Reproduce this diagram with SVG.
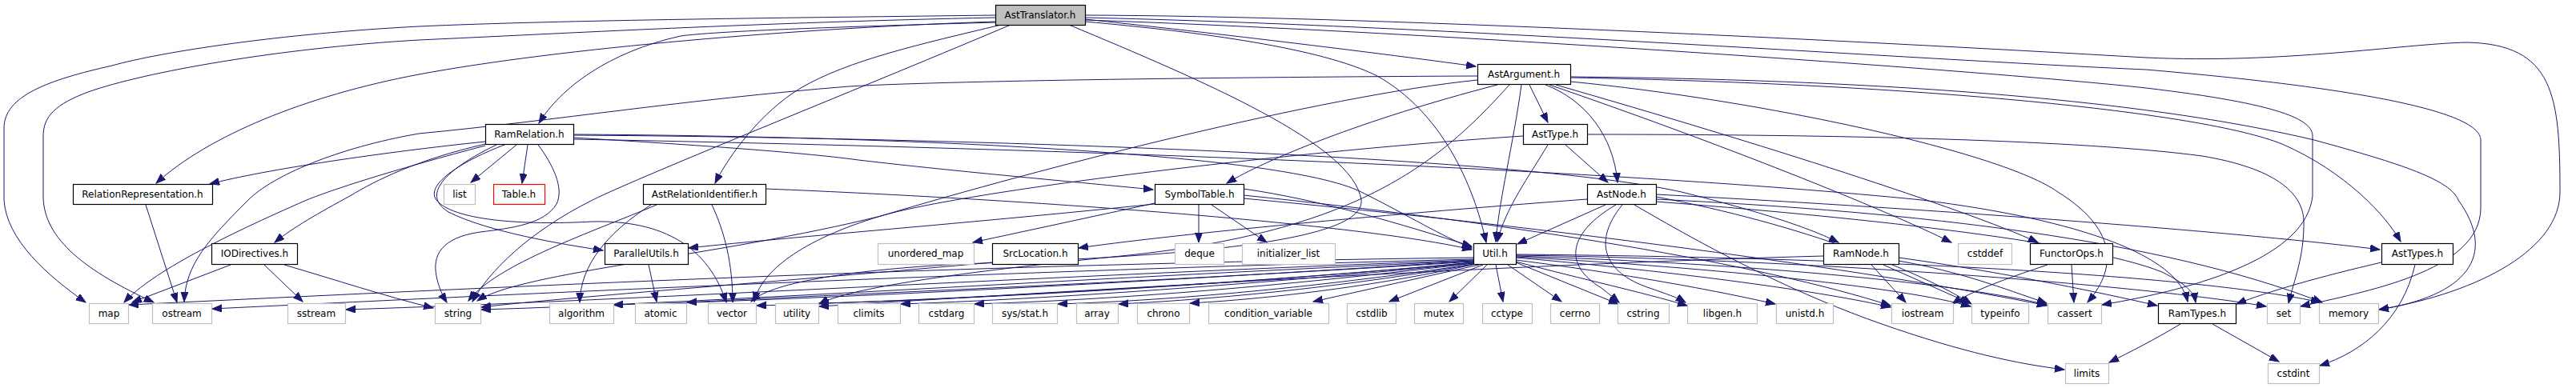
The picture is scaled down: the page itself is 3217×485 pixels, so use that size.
<svg xmlns="http://www.w3.org/2000/svg" width="3217" height="485" viewBox="0 0 3217 485">
<style>
rect{fill:#fff;stroke:#000;stroke-width:1.2}
.x rect{stroke:#bfbfbf}
.r rect{stroke:#ff0000}
.root rect{fill:#bfbfbf}
text{font-family:"DejaVu Sans",sans-serif;font-size:12px;text-anchor:middle;fill:#000}
#edges path{fill:none;stroke:#191970;stroke-width:1;marker-end:url(#a)}
</style>
<defs>
<marker id="a" markerUnits="userSpaceOnUse" markerWidth="13" markerHeight="10" refX="12" refY="4.5" orient="auto">
<path d="M0,0 L12,4.5 L0,9 Z" fill="#191970" stroke="#191970" stroke-width="1"/>
</marker>
</defs>
<rect x="0" y="0" width="3217" height="485" style="fill:#fff;stroke:none"/>
<g id="edges">
<!-- AstTranslator.h -->
<path d="M1243,19 C1000,22 700,25 523,33 C350,42 200,65 140,82 C60,100 5,120 5,160 L5,250 C8,300 60,345 107,378"/>
<path d="M1243,22 C950,28 700,42 523,50 C350,60 180,90 110,115 C70,130 54,145 54,170 L54,245 C54,300 110,340 192,378"/>
<path d="M1243,27 C1000,35 700,60 523,93 C380,120 260,170 195,229"/>
<path d="M1243,28 C1100,32 900,38 850,45 C760,65 700,110 673,154"/>
<path d="M1250,31 C1150,55 1060,75 1000,110 C950,140 910,195 893,229"/>
<path d="M1262,31 C1100,100 800,220 740,250 C660,290 610,340 590,377"/>
<path d="M1355,27 C1500,40 1650,60 1720,95 C1800,140 1840,230 1856,303"/>
<path d="M1355,24 C1550,45 1750,70 1843,83"/>
<path d="M1355,19 C1700,20 2300,50 2680,72 C2850,80 3000,55 3080,53 C3190,55 3197,120 3197,240 C3197,310 3100,365 2971,387"/>
<path d="M1355,22 C1800,32 2400,75 2680,87 C2950,110 3098,140 3098,175 L3098,260 C3098,340 2950,365 2873,383"/>
<path d="M1355,25 C1800,40 2500,90 2680,110 C2850,130 2888,150 2888,170 L2888,245 C2880,320 2750,360 2625,381"/>
<path d="M1335,31 C1500,100 1690,180 1700,250 C1705,300 1500,320 1200,330 C1050,338 960,355 938,377"/>
<!-- RelationRepresentation.h -->
<path d="M182,256 L221,378"/>
<!-- RamRelation.h -->
<path d="M645,181 L588,228"/>
<path d="M659,181 L652,229"/>
<path d="M606,177 C480,190 330,212 262,230"/>
<path d="M606,180 C520,200 470,225 437,245 C400,265 365,285 343,303"/>
<path d="M606,182 C500,210 420,235 383,250 C280,295 190,340 155,378"/>
<path d="M620,181 C570,205 520,240 560,265 C610,290 700,305 753,313"/>
<path d="M672,181 C690,205 705,235 695,255 C680,280 640,285 600,290 C550,297 540,320 545,345 C548,360 553,370 558,378"/>
<path d="M630,181 C580,200 530,230 545,250 C565,275 650,282 740,277 C830,275 885,310 907,378"/>
<path d="M716,172 C850,180 1000,190 1072,200 C1200,215 1350,228 1440,237"/>
<path d="M716,168 C1100,170 1600,190 1700,240 C1760,270 1800,295 1838,310"/>
<path d="M716,169 C1200,172 1900,195 2100,240 C2200,265 2260,285 2296,303"/>
<path d="M716,174 C1300,185 2000,210 2400,250 C2600,275 2720,320 2732,377"/>
<!-- IODirectives.h -->
<path d="M288,331 L165,378"/>
<path d="M330,331 L378,377"/>
<path d="M355,331 C420,350 480,370 541,385"/>
<!-- ParallelUtils.h -->
<path d="M810,331 L820,377"/>
<!-- AstRelationIdentifier.h -->
<path d="M813,256 C760,290 725,330 724,378"/>
<path d="M889,256 C905,290 915,330 915,378"/>
<path d="M820,256 C740,290 620,330 585,376"/>
<path d="M956,236 C1300,250 1700,280 1838,312"/>
<!-- SymbolTable.h -->
<path d="M1497,256 L1497,303"/>
<path d="M1513,256 L1582,303"/>
<path d="M1442,254 L1215,303"/>
<path d="M1442,255 C1200,280 1000,295 860,310"/>
<path d="M1553,236 C1650,250 1750,280 1838,308"/>
<path d="M1553,244 C1900,280 2200,330 2361,382"/>
<path d="M1553,248 C1950,285 2350,340 2556,382"/>
<!-- AstArgument.h -->
<path d="M1910,106 L1933,153"/>
<path d="M1930,106 C1980,125 2015,170 2020,228"/>
<path d="M1870,106 C1700,150 1580,200 1532,229"/>
<path d="M1900,106 C1890,180 1872,250 1868,302"/>
<path d="M1943,106 C2200,180 2450,260 2545,303"/>
<path d="M1935,106 C2150,180 2350,260 2437,303"/>
<path d="M1961,97 C2400,105 2750,140 2850,180 C2930,215 2980,270 2998,302"/>
<path d="M1961,96 C2400,100 2700,130 2890,175 C3000,205 3060,225 3070,250 C3120,320 3080,370 2971,387"/>
<path d="M1961,102 C2200,125 2500,190 2570,240 C2650,290 2640,340 2607,378"/>
<path d="M1845,95 C1600,96 1200,100 1060,108 C850,125 700,150 523,167 C420,185 340,220 310,250 C260,300 232,330 230,377"/>
<path d="M1845,100 C1650,120 1300,210 1100,270 C900,320 650,340 596,376"/>
<path d="M1885,106 C1800,200 1700,290 1400,320 C1200,340 1060,360 1023,380"/>
<!-- AstType.h -->
<path d="M1955,181 L2008,228"/>
<path d="M1933,181 C1910,220 1880,260 1870,302"/>
<path d="M1982,168 C2300,168 2600,175 2750,195 C2840,210 2875,240 2877,275 C2878,320 2865,350 2858,379"/>
<path d="M1902,170 C1600,190 1200,240 1100,270 C1000,300 950,340 942,377"/>
<!-- AstNode.h -->
<path d="M2005,256 L1895,305"/>
<path d="M1982,249 C1700,270 1450,295 1347,310"/>
<path d="M2018,256 C1960,290 1950,330 2000,360 C2010,368 2015,372 2022,378"/>
<path d="M2026,256 C1990,300 2000,340 2060,360 C2080,367 2095,372 2105,378"/>
<path d="M2041,256 C2150,320 2250,370 2350,405 C2450,440 2520,455 2578,462"/>
<path d="M2068,243 C2400,260 2800,290 2972,312"/>
<path d="M2068,249 C2400,265 2700,300 2900,378"/>
<path d="M2068,252 C2300,270 2600,300 2700,340 C2730,355 2740,365 2742,378"/>
<path d="M2068,246 C2250,280 2400,340 2462,380"/>
<!-- RamNode.h -->
<path d="M2337,331 L2380,378"/>
<path d="M2352,331 L2460,379"/>
<path d="M2371,326 C2450,340 2500,360 2556,379"/>
<path d="M2371,322 C2500,340 2620,365 2694,382"/>
<path d="M2277,320 C1900,330 1400,360 1023,383"/>
<!-- FunctorOps.h -->
<path d="M2557,331 C2500,350 2460,365 2438,380"/>
<path d="M2587,331 L2590,378"/>
<!-- AstTypes.h -->
<path d="M2974,328 C2900,345 2830,365 2793,380"/>
<path d="M3016,331 C3000,400 2950,440 2897,457"/>
<!-- RamTypes.h -->
<path d="M2763,405 L2846,452"/>
<path d="M2723,405 C2690,425 2660,440 2634,453"/>
<!-- SrcLocation.h -->
<path d="M1239,328 C1000,350 700,372 601,384"/>
<!-- Util.h -->
<path d="M1840,322 C1200,330 600,360 161,381"/>
<path d="M1840,324 C1200,340 600,370 265,386"/>
<path d="M1840,325 C1300,345 800,375 432,387"/>
<path d="M1840,326 C1300,350 900,378 601,387"/>
<path d="M1840,326 C1400,355 1000,375 766,381"/>
<path d="M1840,327 C1400,355 1000,370 858,378"/>
<path d="M1840,328 C1500,360 1100,378 945,382"/>
<path d="M1840,328 C1500,360 1150,376 1023,379"/>
<path d="M1840,329 C1500,362 1250,376 1125,380"/>
<path d="M1840,329 C1550,364 1350,376 1217,380"/>
<path d="M1841,330 C1600,366 1420,377 1321,380"/>
<path d="M1842,330 C1650,364 1480,376 1397,380"/>
<path d="M1843,330 C1700,362 1560,375 1486,379"/>
<path d="M1847,331 L1640,377"/>
<path d="M1852,331 L1735,377"/>
<path d="M1857,331 L1810,377"/>
<path d="M1868,331 L1877,377"/>
<path d="M1883,331 L1950,377"/>
<path d="M1893,328 L2021,380"/>
<path d="M1893,327 C1980,350 2050,365 2107,382"/>
<path d="M1893,325 C2050,345 2150,365 2217,380"/>
<path d="M1893,322 C2100,340 2280,365 2361,384"/>
<path d="M1893,321 C2150,335 2380,360 2461,383"/>
<path d="M1893,320 C2200,330 2450,355 2556,381"/>
<path d="M1893,319 C2300,325 2700,360 2830,383"/>
<path d="M1893,318 C2350,322 2750,345 2898,378"/>
</g>
<g id="n-AstTranslator" class="root"><rect x="1243.5" y="6.5" width="112" height="25"/><text x="1299" y="23">AstTranslator.h</text></g>
<g id="n-AstArgument"><rect x="1845.5" y="80.5" width="116" height="25"/><text x="1903" y="97">AstArgument.h</text></g>
<g id="n-RamRelation"><rect x="606.5" y="155.5" width="110" height="25"/><text x="661" y="172">RamRelation.h</text></g>
<g id="n-AstType"><rect x="1902.5" y="155.5" width="80" height="25"/><text x="1942" y="172">AstType.h</text></g>
<g id="n-RelationRepresentation"><rect x="91.5" y="230.5" width="174" height="25"/><text x="178" y="247">RelationRepresentation.h</text></g>
<g id="n-list" class="x"><rect x="554.5" y="230.5" width="39" height="25"/><text x="574" y="247">list</text></g>
<g id="n-Table" class="r"><rect x="616.5" y="230.5" width="64" height="25"/><text x="648" y="247">Table.h</text></g>
<g id="n-AstRelationIdentifier"><rect x="803.5" y="230.5" width="153" height="25"/><text x="880" y="247">AstRelationIdentifier.h</text></g>
<g id="n-SymbolTable"><rect x="1442.5" y="230.5" width="111" height="25"/><text x="1498" y="247">SymbolTable.h</text></g>
<g id="n-AstNode"><rect x="1982.5" y="230.5" width="86" height="25"/><text x="2025" y="247">AstNode.h</text></g>
<g id="n-IODirectives"><rect x="264.5" y="304.5" width="107" height="26"/><text x="318" y="321">IODirectives.h</text></g>
<g id="n-ParallelUtils"><rect x="755.5" y="304.5" width="104" height="26"/><text x="807" y="321">ParallelUtils.h</text></g>
<g id="n-unordered_map" class="x"><rect x="1096.5" y="304.5" width="120" height="26"/><text x="1156" y="321">unordered_map</text></g>
<g id="n-SrcLocation"><rect x="1239.5" y="304.5" width="107" height="26"/><text x="1293" y="321">SrcLocation.h</text></g>
<g id="n-deque" class="x"><rect x="1467.5" y="304.5" width="61" height="26"/><text x="1498" y="321">deque</text></g>
<g id="n-initializer_list" class="x"><rect x="1551.5" y="304.5" width="116" height="26"/><text x="1609" y="321">initializer_list</text></g>
<g id="n-Util"><rect x="1840.5" y="304.5" width="53" height="26"/><text x="1867" y="321">Util.h</text></g>
<g id="n-RamNode"><rect x="2277.5" y="304.5" width="94" height="26"/><text x="2324" y="321">RamNode.h</text></g>
<g id="n-cstddef" class="x"><rect x="2445.5" y="304.5" width="67" height="26"/><text x="2479" y="321">cstddef</text></g>
<g id="n-FunctorOps"><rect x="2535.5" y="304.5" width="103" height="26"/><text x="2587" y="321">FunctorOps.h</text></g>
<g id="n-AstTypes"><rect x="2974.5" y="304.5" width="89" height="26"/><text x="3019" y="321">AstTypes.h</text></g>
<g id="n-map" class="x"><rect x="111.5" y="379.5" width="49" height="25"/><text x="136" y="396">map</text></g>
<g id="n-ostream" class="x"><rect x="190.5" y="379.5" width="74" height="25"/><text x="227" y="396">ostream</text></g>
<g id="n-sstream" class="x"><rect x="359.5" y="379.5" width="72" height="25"/><text x="395" y="396">sstream</text></g>
<g id="n-string" class="x"><rect x="543.5" y="379.5" width="57" height="25"/><text x="572" y="396">string</text></g>
<g id="n-algorithm" class="x"><rect x="686.5" y="379.5" width="80" height="25"/><text x="726" y="396">algorithm</text></g>
<g id="n-atomic" class="x"><rect x="793.5" y="379.5" width="64" height="25"/><text x="825" y="396">atomic</text></g>
<g id="n-vector" class="x"><rect x="884.5" y="379.5" width="60" height="25"/><text x="914" y="396">vector</text></g>
<g id="n-utility" class="x"><rect x="968.5" y="379.5" width="54" height="25"/><text x="995" y="396">utility</text></g>
<g id="n-climits" class="x"><rect x="1046.5" y="379.5" width="78" height="25"/><text x="1085" y="396">climits</text></g>
<g id="n-cstdarg" class="x"><rect x="1147.5" y="379.5" width="69" height="25"/><text x="1182" y="396">cstdarg</text></g>
<g id="n-sys_stat" class="x"><rect x="1239.5" y="379.5" width="81" height="25"/><text x="1280" y="396">sys/stat.h</text></g>
<g id="n-array" class="x"><rect x="1344.5" y="379.5" width="52" height="25"/><text x="1370" y="396">array</text></g>
<g id="n-chrono" class="x"><rect x="1420.5" y="379.5" width="65" height="25"/><text x="1453" y="396">chrono</text></g>
<g id="n-condition_variable" class="x"><rect x="1509.5" y="379.5" width="150" height="25"/><text x="1584" y="396">condition_variable</text></g>
<g id="n-cstdlib" class="x"><rect x="1682.5" y="379.5" width="61" height="25"/><text x="1713" y="396">cstdlib</text></g>
<g id="n-mutex" class="x"><rect x="1766.5" y="379.5" width="61" height="25"/><text x="1797" y="396">mutex</text></g>
<g id="n-cctype" class="x"><rect x="1851.5" y="379.5" width="62" height="25"/><text x="1882" y="396">cctype</text></g>
<g id="n-cerrno" class="x"><rect x="1936.5" y="379.5" width="61" height="25"/><text x="1967" y="396">cerrno</text></g>
<g id="n-cstring" class="x"><rect x="2020.5" y="379.5" width="64" height="25"/><text x="2052" y="396">cstring</text></g>
<g id="n-libgen" class="x"><rect x="2107.5" y="379.5" width="87" height="25"/><text x="2151" y="396">libgen.h</text></g>
<g id="n-unistd" class="x"><rect x="2218.5" y="379.5" width="71" height="25"/><text x="2254" y="396">unistd.h</text></g>
<g id="n-iostream" class="x"><rect x="2362.5" y="379.5" width="77" height="25"/><text x="2401" y="396">iostream</text></g>
<g id="n-typeinfo" class="x"><rect x="2462.5" y="379.5" width="71" height="25"/><text x="2498" y="396">typeinfo</text></g>
<g id="n-cassert" class="x"><rect x="2557.5" y="379.5" width="67" height="25"/><text x="2591" y="396">cassert</text></g>
<g id="n-RamTypes"><rect x="2695.5" y="379.5" width="97" height="25"/><text x="2744" y="396">RamTypes.h</text></g>
<g id="n-set" class="x"><rect x="2831.5" y="379.5" width="41" height="25"/><text x="2852" y="396">set</text></g>
<g id="n-memory" class="x"><rect x="2896.5" y="379.5" width="74" height="25"/><text x="2933" y="396">memory</text></g>
<g id="n-limits" class="x"><rect x="2579.5" y="454.5" width="54" height="25"/><text x="2606" y="471">limits</text></g>
<g id="n-cstdint" class="x"><rect x="2832.5" y="454.5" width="64" height="25"/><text x="2864" y="471">cstdint</text></g>
</svg>
